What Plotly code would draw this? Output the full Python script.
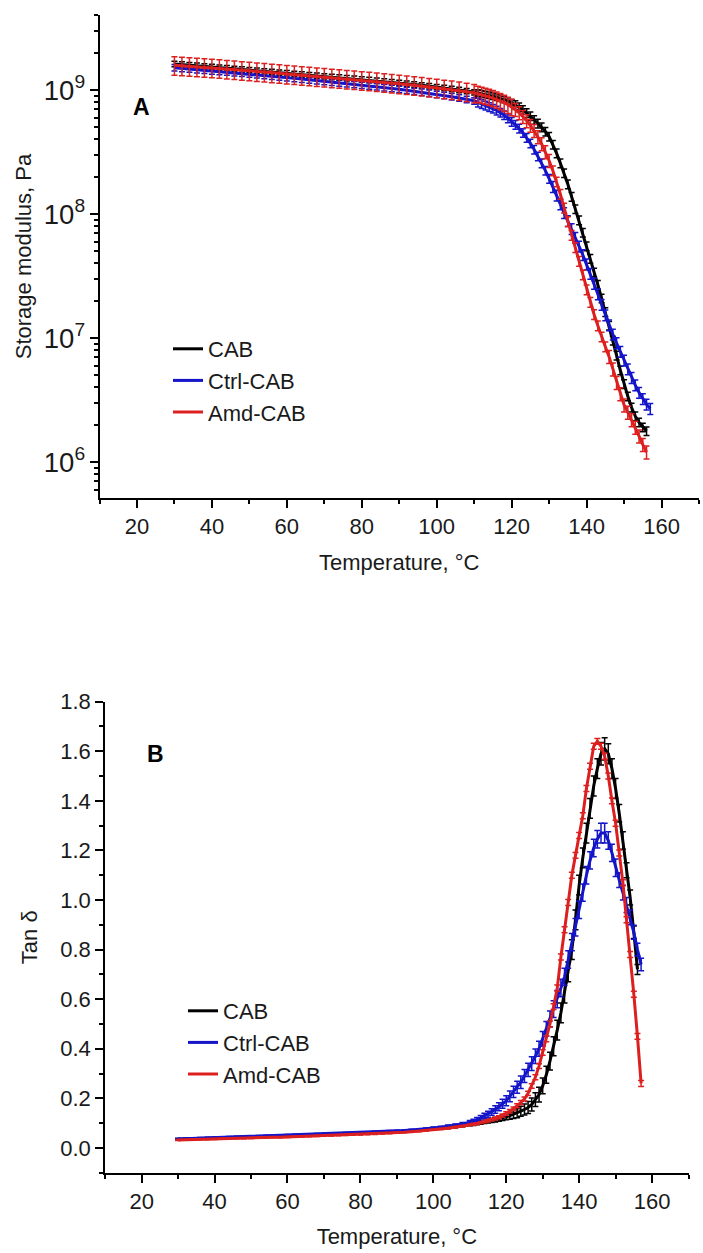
import plotly.graph_objects as go

# ---------------- data ----------------
TEMP = [30, 32, 34, 36, 38, 40, 42, 44, 46, 48, 50, 52, 54, 56, 58, 60, 62, 64, 66, 68,
        70, 72, 74, 76, 78, 80, 82, 84, 86, 88, 90, 92, 94, 96, 98, 100, 102, 104, 106, 108,
        110, 111, 112, 113, 114, 115, 116, 117, 118, 119, 120, 121, 122, 123, 124, 125, 126,
        127, 128, 129, 130, 131, 132, 133, 134, 135, 136, 137, 138, 139, 140, 141, 142, 143,
        144, 145, 146, 147, 148, 149, 150, 151, 152, 153, 154, 155, 156, 157]

SERIES = ["CAB", "Ctrl-CAB", "Amd-CAB"]
COLORS = ["#000000", "#1414C8", "#DC2020"]

# storage modulus, log10(Pa)
LOGE_CAB = [9.210, 9.206, 9.201, 9.196, 9.191, 9.186, 9.181, 9.176, 9.171, 9.166,
            9.161, 9.156, 9.151, 9.146, 9.141, 9.136, 9.131, 9.126, 9.121, 9.116,
            9.111, 9.106, 9.101, 9.096, 9.091, 9.086, 9.081, 9.075, 9.069, 9.063,
            9.057, 9.051, 9.045, 9.038, 9.031, 9.024, 9.017, 9.009, 9.001, 8.992, 8.982,
            8.977, 8.971, 8.965, 8.958, 8.951, 8.943, 8.934, 8.924, 8.912, 8.898,
            8.880, 8.862, 8.840, 8.815, 8.790, 8.760, 8.730, 8.700, 8.665, 8.625,
            8.560, 8.490, 8.410, 8.330, 8.240, 8.140, 8.040, 7.950, 7.850, 7.740,
            7.640, 7.530, 7.430, 7.320, 7.210, 7.100, 6.980, 6.860, 6.740, 6.630,
            6.530, 6.440, 6.370, 6.320, 6.280, 6.250]
LOGE_CTRL = [9.180, 9.175, 9.170, 9.165, 9.160, 9.155, 9.150, 9.145, 9.140, 9.135,
             9.130, 9.124, 9.118, 9.112, 9.106, 9.100, 9.094, 9.088, 9.082, 9.076,
             9.070, 9.064, 9.058, 9.052, 9.046, 9.040, 9.034, 9.027, 9.020, 9.013,
             9.006, 8.998, 8.990, 8.982, 8.974, 8.965, 8.956, 8.946, 8.936, 8.925, 8.913,
             8.900, 8.888, 8.876, 8.863, 8.850, 8.835, 8.818, 8.798, 8.773, 8.745,
             8.720, 8.690, 8.655, 8.615, 8.570, 8.520, 8.465, 8.410, 8.350, 8.285,
             8.220, 8.150, 8.080, 8.010, 7.945, 7.880, 7.810, 7.740, 7.670, 7.595,
             7.520, 7.440, 7.355, 7.270, 7.185, 7.105, 7.030, 6.960, 6.890, 6.820,
             6.750, 6.680, 6.620, 6.560, 6.510, 6.465, 6.430]
LOGE_AMD = [9.200, 9.196, 9.192, 9.188, 9.184, 9.180, 9.175, 9.170, 9.165, 9.160,
            9.155, 9.150, 9.145, 9.140, 9.135, 9.130, 9.125, 9.120, 9.115, 9.110,
            9.105, 9.100, 9.095, 9.090, 9.085, 9.080, 9.075, 9.069, 9.063, 9.057,
            9.051, 9.045, 9.039, 9.032, 9.025, 9.018, 9.011, 9.004, 8.996, 8.987, 8.977,
            8.970, 8.962, 8.954, 8.945, 8.935, 8.924, 8.912, 8.898, 8.882, 8.864,
            8.842, 8.816, 8.786, 8.752, 8.714, 8.672, 8.622, 8.566, 8.502, 8.430,
            8.350, 8.260, 8.160, 8.050, 7.940, 7.830, 7.730, 7.620, 7.510, 7.390,
            7.290, 7.190, 7.100, 7.010, 6.930, 6.850, 6.750, 6.640, 6.550, 6.460,
            6.400, 6.340, 6.280, 6.210, 6.140, 6.080]

# storage modulus error bars, percent of value
EERR_CAB = [5, 5, 5, 5, 5, 5, 5, 5, 5, 5, 5, 5, 5, 5, 5, 5, 5, 5, 5, 5,
            5, 5, 5, 5, 5, 5, 5, 5, 5, 5, 5, 5, 5, 5, 5, 5, 5, 5, 5, 5, 5,
            6, 6, 6, 6, 6, 6, 6, 6, 6, 6,
            8, 8, 8, 8, 8, 8, 8, 8, 8, 8,
            8, 8, 8, 8, 8, 8, 8, 8, 8, 8,
            8, 8, 8, 8, 8, 8, 8, 8, 8, 8,
            8, 8, 8, 8, 8, 8]
EERR_CTRL = [6, 6, 6, 6, 6, 6, 6, 6, 6, 6, 6, 6, 6, 6, 6, 6, 6, 6, 6, 6,
             6, 6, 6, 6, 6, 6, 6, 6, 6, 6, 6, 6, 6, 6, 6, 6, 6, 6, 6, 6, 6,
             8, 8, 8, 8, 8, 8, 8, 8, 8, 8,
             8, 8, 8, 8, 8, 8, 8, 8, 8, 8,
             10, 10, 10, 10, 10, 10, 10, 10, 10, 10,
             10, 10, 10, 10, 10, 10, 10, 10, 10, 10,
             10, 10, 10, 10, 10, 10, 10]
EERR_AMD = [17, 17, 17, 17, 17, 17, 17, 17, 17, 17, 17, 17, 17, 17, 17, 17, 17, 17, 17, 17,
            17, 17, 17, 17, 17, 17, 17, 17, 17, 17, 17, 17, 17, 17, 17, 17, 17, 17, 17, 17, 17,
            15, 15, 15, 15, 15, 15, 15, 15, 15, 15,
            12, 12, 12, 12, 12, 12, 12, 12, 12, 12,
            9, 9, 9, 9, 9, 9, 9, 9, 9, 9,
            9, 9, 9, 9, 9, 12, 12, 12, 12, 12,
            12, 12, 12, 12, 12, 12]

# tan delta
TAN_CAB = [0.035, 0.036, 0.037, 0.038, 0.038, 0.039, 0.040, 0.041, 0.042, 0.042,
           0.043, 0.044, 0.045, 0.046, 0.046, 0.047, 0.048, 0.049, 0.050, 0.051,
           0.052, 0.053, 0.054, 0.055, 0.056, 0.057, 0.058, 0.059, 0.061, 0.062,
           0.064, 0.066, 0.068, 0.070, 0.072, 0.075, 0.078, 0.081, 0.084, 0.088, 0.093,
           0.096, 0.099, 0.102, 0.105, 0.108, 0.111, 0.114, 0.118, 0.122, 0.126,
           0.130, 0.135, 0.140, 0.148, 0.155, 0.163, 0.175, 0.195, 0.215, 0.250,
           0.295, 0.350, 0.410, 0.475, 0.545, 0.625, 0.710, 0.800, 0.920, 1.060,
           1.170, 1.270, 1.370, 1.460, 1.530, 1.590, 1.610, 1.590, 1.530, 1.450,
           1.350, 1.240, 1.120, 1.010, 0.870, 0.720]
TAN_CTRL = [0.036, 0.037, 0.038, 0.039, 0.040, 0.041, 0.042, 0.043, 0.044, 0.045,
            0.046, 0.047, 0.048, 0.049, 0.050, 0.051, 0.052, 0.053, 0.054, 0.055,
            0.056, 0.057, 0.058, 0.059, 0.060, 0.061, 0.062, 0.064, 0.065, 0.067,
            0.068, 0.070, 0.072, 0.074, 0.077, 0.080, 0.083, 0.087, 0.091, 0.097, 0.104,
            0.108, 0.114, 0.121, 0.129, 0.136, 0.145, 0.155, 0.166, 0.178, 0.190,
            0.208, 0.226, 0.245, 0.265, 0.290, 0.315, 0.340, 0.370, 0.400, 0.440,
            0.480, 0.520, 0.560, 0.600, 0.645, 0.690, 0.760, 0.830, 0.890, 0.960,
            1.030, 1.100, 1.160, 1.210, 1.245, 1.270, 1.270, 1.240, 1.190, 1.130,
            1.080, 1.030, 0.980, 0.930, 0.870, 0.800, 0.740]
TAN_AMD = [0.032, 0.033, 0.034, 0.035, 0.035, 0.036, 0.037, 0.038, 0.039, 0.039,
           0.040, 0.041, 0.042, 0.043, 0.043, 0.044, 0.045, 0.046, 0.047, 0.048,
           0.049, 0.050, 0.051, 0.052, 0.053, 0.054, 0.055, 0.056, 0.058, 0.059,
           0.061, 0.063, 0.065, 0.067, 0.070, 0.073, 0.076, 0.079, 0.083, 0.087, 0.092,
           0.095, 0.098, 0.102, 0.106, 0.110, 0.114, 0.119, 0.124, 0.131, 0.139,
           0.148, 0.158, 0.170, 0.183, 0.197, 0.220, 0.250, 0.285, 0.330, 0.385,
           0.440, 0.500, 0.570, 0.645, 0.770, 0.880, 0.990, 1.100, 1.180, 1.260,
           1.340, 1.450, 1.540, 1.620, 1.640, 1.620, 1.580, 1.500, 1.400, 1.310,
           1.190, 1.070, 0.920, 0.780, 0.620, 0.450, 0.260]

# tan delta error bars (absolute)
TERR_CAB = [0.003, 0.003, 0.003, 0.003, 0.003, 0.003, 0.003, 0.003, 0.003, 0.003,
            0.003, 0.003, 0.003, 0.003, 0.003, 0.003, 0.003, 0.003, 0.003, 0.003,
            0.003, 0.003, 0.003, 0.003, 0.003, 0.003, 0.003, 0.003, 0.003, 0.003,
            0.003, 0.003, 0.003, 0.003, 0.003, 0.003, 0.003, 0.003, 0.003, 0.003, 0.004,
            0.006, 0.006, 0.007, 0.007, 0.008, 0.008, 0.009, 0.010, 0.011, 0.012,
            0.014, 0.016, 0.018, 0.020, 0.022, 0.024, 0.026, 0.028, 0.030, 0.032,
            0.034, 0.036, 0.038, 0.040, 0.040, 0.040, 0.040, 0.040, 0.040, 0.040,
            0.040, 0.040, 0.040, 0.040, 0.040, 0.045, 0.045, 0.040, 0.040, 0.040,
            0.035, 0.035, 0.030, 0.030, 0.025, 0.020]
TERR_CTRL = [0.003, 0.003, 0.003, 0.003, 0.003, 0.003, 0.003, 0.003, 0.003, 0.003,
             0.003, 0.003, 0.003, 0.003, 0.003, 0.003, 0.003, 0.003, 0.003, 0.003,
             0.003, 0.003, 0.003, 0.003, 0.003, 0.003, 0.003, 0.003, 0.003, 0.003,
             0.003, 0.003, 0.003, 0.003, 0.003, 0.004, 0.004, 0.005, 0.005, 0.006, 0.007,
             0.008, 0.009, 0.010, 0.011, 0.012, 0.013, 0.015, 0.016, 0.018, 0.020,
             0.022, 0.023, 0.024, 0.025, 0.026, 0.027, 0.028, 0.029, 0.030, 0.030,
             0.030, 0.032, 0.034, 0.035, 0.035, 0.035, 0.035, 0.035, 0.035, 0.035,
             0.035, 0.035, 0.035, 0.035, 0.035, 0.040, 0.040, 0.035, 0.035, 0.035,
             0.030, 0.030, 0.030, 0.030, 0.028, 0.026, 0.025]
TERR_AMD = [0.002, 0.002, 0.002, 0.002, 0.002, 0.002, 0.002, 0.002, 0.002, 0.002,
            0.002, 0.002, 0.002, 0.002, 0.002, 0.002, 0.002, 0.002, 0.002, 0.002,
            0.002, 0.002, 0.002, 0.002, 0.002, 0.002, 0.002, 0.002, 0.002, 0.002,
            0.002, 0.002, 0.002, 0.002, 0.002, 0.002, 0.002, 0.003, 0.003, 0.003, 0.003,
            0.004, 0.004, 0.004, 0.005, 0.005, 0.005, 0.006, 0.006, 0.006, 0.007,
            0.007, 0.007, 0.008, 0.008, 0.008, 0.009, 0.009, 0.010, 0.010, 0.011,
            0.012, 0.012, 0.012, 0.012, 0.012, 0.012, 0.012, 0.012, 0.012, 0.012,
            0.012, 0.012, 0.012, 0.012, 0.012, 0.012, 0.012, 0.012, 0.012, 0.012,
            0.012, 0.012, 0.012, 0.012, 0.012, 0.012, 0.012]

LOGE = [LOGE_CAB, LOGE_CTRL, LOGE_AMD]
EERR = [EERR_CAB, EERR_CTRL, EERR_AMD]
TAN = [TAN_CAB, TAN_CTRL, TAN_AMD]
TERR = [TERR_CAB, TERR_CTRL, TERR_AMD]

FONT = "Liberation Sans, Arial, sans-serif"

fig = go.Figure()

for name, color, le, ee in zip(SERIES, COLORS, LOGE, EERR):
    n = len(le)
    yv = [10 ** v for v in le]
    err = [y * p / 100.0 for y, p in zip(yv, ee)]
    fig.add_trace(go.Scatter(
        x=TEMP[:n], y=yv, mode="lines", name=name,
        line=dict(color=color, width=3),
        error_y=dict(type="data", array=err, color=color, thickness=1.5, width=3),
        xaxis="x", yaxis="y", legend="legend"))

for name, color, tv, te in zip(SERIES, COLORS, TAN, TERR):
    n = len(tv)
    fig.add_trace(go.Scatter(
        x=TEMP[:n], y=tv, mode="lines", name=name,
        line=dict(color=color, width=3),
        error_y=dict(type="data", array=te, color=color, thickness=1.5, width=3),
        xaxis="x2", yaxis="y2", legend="legend2"))

W, H = 703, 1253
ML = 60
PW = W - ML


def px_x(p):
    return (p - ML) / PW


def px_y(p):
    return 1 - p / H


axis_common = dict(
    automargin=False,
    showline=True, linecolor="black", linewidth=2, mirror=False,
    showgrid=False, zeroline=False,
    ticks="outside", ticklen=8, tickwidth=2, tickcolor="black",
    tickfont=dict(family=FONT, size=22, color="#1a1a1a"),
    title_font=dict(family=FONT, size=22, color="#1a1a1a"),
)

xax = dict(axis_common, range=[10, 170], tick0=0, dtick=20,
           minor=dict(dtick=10, ticks="outside", ticklen=4, tickwidth=1.5, tickcolor="black"),
           title=dict(text="Temperature, °C", standoff=16))

fig.update_layout(
    width=W, height=H,
    margin=dict(l=ML, r=0, t=0, b=0),
    paper_bgcolor="white", plot_bgcolor="white",
    font=dict(family=FONT, color="#1a1a1a"),
    xaxis=dict(xax, domain=[px_x(99.5), px_x(699)], anchor="y"),
    yaxis=dict(axis_common, type="log", range=[5.71, 9.605], dtick=1,
               exponentformat="power", showexponent="all",
               minor=dict(dtick="D1", ticks="outside", ticklen=4, tickwidth=1.5, tickcolor="black"),
               domain=[px_y(498), px_y(15)], anchor="x",
               title=dict(text="Storage modulus, Pa", standoff=6)),
    xaxis2=dict(xax, domain=[px_x(105.2), px_x(688.5)], anchor="y2"),
    yaxis2=dict(axis_common, range=[-0.1, 1.8], tick0=0, dtick=0.2, tickformat=".1f",
                minor=dict(dtick=0.1, ticks="outside", ticklen=4, tickwidth=1.5, tickcolor="black"),
                domain=[px_y(1172.7), px_y(701.7)], anchor="x2",
                title=dict(text="Tan δ", standoff=16)),
    legend=dict(x=px_x(168), y=px_y(328), xanchor="left", yanchor="top",
                bgcolor="rgba(0,0,0,0)", font=dict(family=FONT, size=22, color="#1a1a1a"),
                tracegroupgap=0),
    legend2=dict(x=px_x(183), y=px_y(990), xanchor="left", yanchor="top",
                 bgcolor="rgba(0,0,0,0)", font=dict(family=FONT, size=22, color="#1a1a1a"),
                 tracegroupgap=0),
    showlegend=True,
    annotations=[
        dict(text="<b>A</b>", x=21.1, y=8.863, xref="x", yref="y", showarrow=False,
             font=dict(family=FONT, size=23, color="black")),
        dict(text="<b>B</b>", x=23.7, y=1.59, xref="x2", yref="y2", showarrow=False,
             font=dict(family=FONT, size=23, color="black")),
    ],
)

fig.write_html("out.html", config={"displayModeBar": False},
               post_script="document.body.style.margin='0';")
